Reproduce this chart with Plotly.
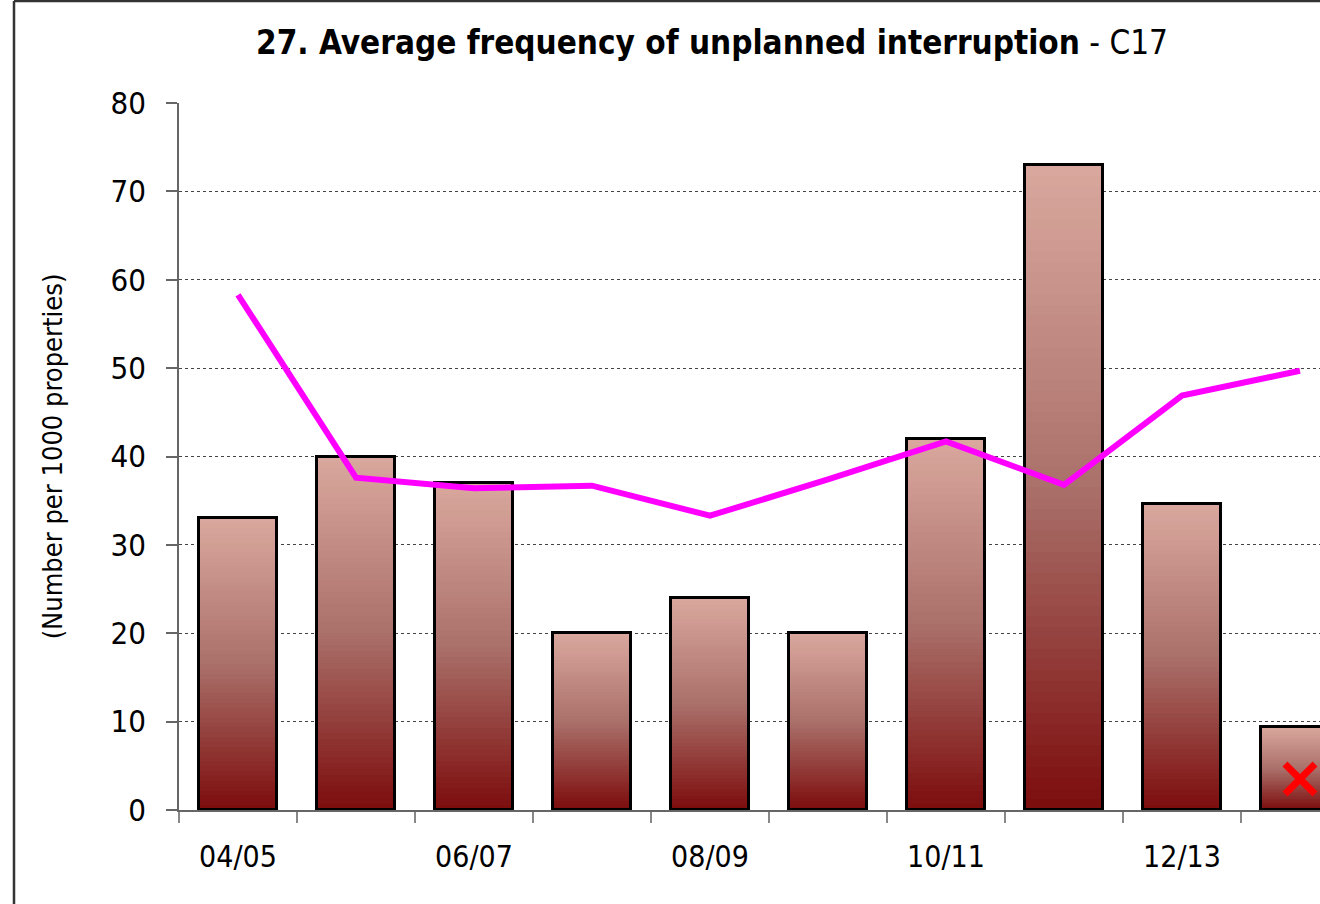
import plotly.graph_objects as go

# data
years = ["04/05", "05/06", "06/07", "07/08", "08/09",
         "09/10", "10/11", "11/12", "12/13", "13/14"]
bar_values = [33.0, 40.0, 37.0, 20.0, 24.0, 20.0, 42.0, 73.0, 34.6, 9.4]
line_values = [58.3, 37.6, 36.4, 36.7, 33.3, 37.4, 41.7, 36.8, 46.9, 49.7]
flag_years = ["13/14"]
flag_values = [3.5]
y_ticks = [0, 10, 20, 30, 40, 50, 60, 70, 80]

FONT = "DejaVu Sans Condensed, Liberation Sans Narrow, sans-serif"
GRAD_TOP = (218, 168, 158)
GRAD_MID = (170, 112, 106)
GRAD_BOT = (124, 12, 12)


def grad_color(t):
    # t = 0 at the top of a bar, 1 at the bottom
    if t < 0.5:
        a, b, f = GRAD_TOP, GRAD_MID, t / 0.5
    else:
        a, b, f = GRAD_MID, GRAD_BOT, (t - 0.5) / 0.5
    r, g, bl = (round(a[i] + (b[i] - a[i]) * f) for i in range(3))
    return f"rgb({r},{g},{bl})"


xs = list(range(len(years)))
fig = go.Figure()

# gradient fill: stacked-down layers, each shorter and darker than the last
N = 60
for k in range(N):
    fig.add_trace(
        go.Bar(
            x=xs,
            y=[v * (N - k) / N for v in bar_values],
            width=0.66,
            marker=dict(color=grad_color((k + 0.5) / N), line=dict(width=0)),
            hoverinfo="skip",
            showlegend=False,
        )
    )

# outline of the bars
fig.add_trace(
    go.Bar(
        x=xs,
        y=bar_values,
        width=0.66,
        marker=dict(color="rgba(0,0,0,0)", line=dict(color="black", width=3)),
        customdata=years,
        hovertemplate="%{customdata}: %{y}<extra></extra>",
        showlegend=False,
    )
)

fig.add_trace(
    go.Scatter(
        x=xs,
        y=line_values,
        mode="lines",
        line=dict(color="#ff00ff", width=6),
        showlegend=False,
    )
)

fig.add_trace(
    go.Scatter(
        x=[years.index(y) for y in flag_years],
        y=flag_values,
        mode="markers",
        marker=dict(symbol="x-thin", size=30, line=dict(color="#ff0000", width=7)),
        showlegend=False,
    )
)

fig.update_layout(
    width=1320,
    height=904,
    barmode="overlay",
    bargap=0,
    paper_bgcolor="white",
    plot_bgcolor="white",
    font=dict(family=FONT, color="black"),
    margin=dict(l=179, r=0, t=103, b=94),
    title=dict(
        text="<b>27. Average frequency of unplanned interruption</b> - C17",
        font=dict(family=FONT, size=33, color="black"),
        x=712 / 1320,
        xanchor="center",
        y=1 - 42 / 904,
        yanchor="middle",
    ),
    shapes=[
        # outer frame of the chart (cropped on the right and bottom)
        dict(type="line", xref="paper", yref="paper",
             x0=(14 - 179) / 1141, x1=(14 - 179) / 1141,
             y0=(810 - 904) / 707 - 0.01, y1=(810 - 1) / 707,
             line=dict(color="#333333", width=2.5)),
        dict(type="line", xref="paper", yref="paper",
             x0=(14 - 179) / 1141, x1=1.01,
             y0=(810 - 1) / 707, y1=(810 - 1) / 707,
             line=dict(color="#333333", width=2.5)),
    ],
)

fig.update_xaxes(
    range=[-0.5, -0.5 + 1141 / 118],
    tickvals=xs[::2],
    ticktext=years[::2],
    ticks="",
    tickfont=dict(size=30, family=FONT),
    ticklabelstandoff=19,
    showgrid=False,
    zeroline=False,
    showline=True,
    linecolor="#666666",
    linewidth=1.5,
    minor=dict(ticks="outside", tick0=0.5, dtick=1, ticklen=11,
               tickcolor="#888888", tickwidth=1.5, showgrid=False),
)

fig.update_yaxes(
    range=[0, 80],
    tickvals=y_ticks,
    ticks="outside",
    ticklen=11,
    tickcolor="#666666",
    tickwidth=1.5,
    tickfont=dict(size=31, family=FONT),
    ticklabelstandoff=14,
    showline=True,
    linecolor="#666666",
    linewidth=1.5,
    showgrid=True,
    gridcolor="#444444",
    gridwidth=1,
    griddash="dot",
    zeroline=False,
    title=dict(text="(Number per 1000 properties)",
               font=dict(size=27, family=FONT), standoff=40),
)

fig.write_html(
    "out.html",
    config={"displayModeBar": False},
    post_script="document.body.style.margin='0';",
)
